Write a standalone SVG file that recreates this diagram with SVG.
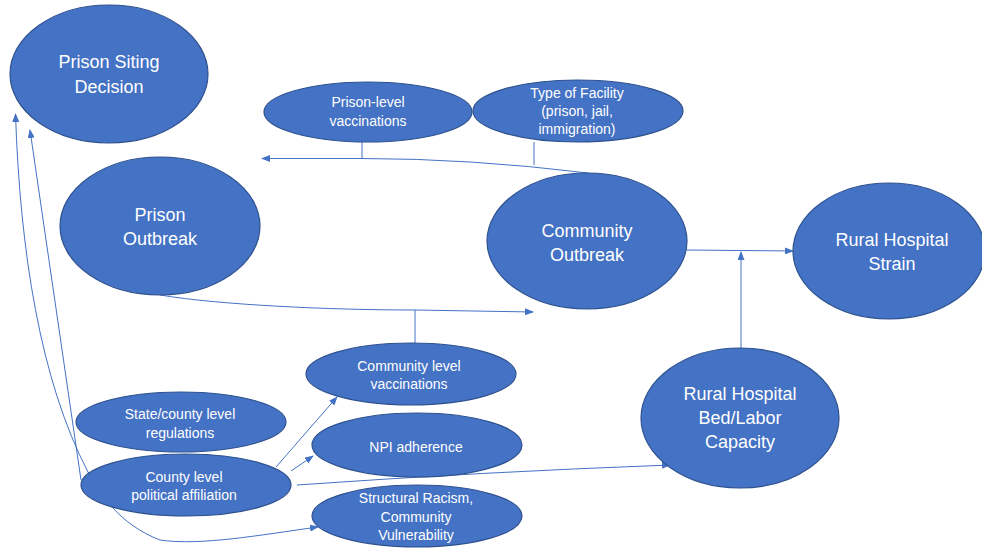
<svg xmlns="http://www.w3.org/2000/svg" width="982" height="550" viewBox="0 0 982 550">
<style>
.node{fill:#4472C4;stroke:#2F528F;stroke-width:1.2}
.big{font-family:"Liberation Sans",Arial,sans-serif;font-size:18px;fill:#ffffff;text-anchor:middle}
.small{font-family:"Liberation Sans",Arial,sans-serif;font-size:14px;fill:#ffffff;text-anchor:middle}
.c{fill:none;stroke:#4472C4;stroke-width:1}
.ca{fill:none;stroke:#4472C4;stroke-width:1;marker-end:url(#arr)}
</style>
<defs>
<marker id="arr" markerUnits="userSpaceOnUse" markerWidth="9" markerHeight="7" refX="8" refY="3.5" orient="auto-start-reverse">
<path d="M0,0 L9,3.5 L0,7 z" fill="#4472C4"/>
</marker>
</defs>
<rect width="982" height="550" fill="#ffffff"/>
<g id="connectors">
<path class="c" d="M588 173 Q470 158.5 362 158.5 L262 158.5" marker-end="url(#arr)"/>
<path class="c" d="M362 142 L362 158.5"/>
<path class="c" d="M534 142 L534 165"/>
<path class="ca" d="M160 295 C220 305 330 310 415 310 L533 312"/>
<path class="c" d="M415 310 L415 343"/>
<path class="ca" d="M687 250 L793 251"/>
<path class="ca" d="M741 349 L741 252"/>
<path class="ca" d="M276 467 L337 397"/>
<path class="ca" d="M291 471 L313 456"/>
<path class="ca" d="M297 485 Q480 472 670 465"/>
<path class="ca" d="M81 480 L30 130"/>
<path class="c" d="M15.5 114 C20 250 40 380 88 472 C98 492 120 525 160 540 C200 546 260 535 318 527" marker-start="url(#arr)" marker-end="url(#arr)"/>
</g>
<g id="prison-siting">
<ellipse class="node" cx="109" cy="74" rx="99" ry="69"/>
<text class="big" x="109" y="68">Prison Siting</text>
<text class="big" x="109" y="93">Decision</text>
</g>
<g id="prison-vacc">
<ellipse class="node" cx="368" cy="112" rx="104" ry="30"/>
<text class="small" x="368" y="107">Prison-level</text>
<text class="small" x="368" y="126">vaccinations</text>
</g>
<g id="facility-type">
<ellipse class="node" cx="578" cy="111" rx="105" ry="31"/>
<text class="small" x="577" y="98">Type of Facility</text>
<text class="small" x="577" y="116">(prison, jail,</text>
<text class="small" x="577" y="134">immigration)</text>
</g>
<g id="prison-outbreak">
<ellipse class="node" cx="160" cy="226" rx="100" ry="69"/>
<text class="big" x="160" y="221">Prison</text>
<text class="big" x="160" y="245">Outbreak</text>
</g>
<g id="community-outbreak">
<ellipse class="node" cx="587" cy="241" rx="100" ry="68"/>
<text class="big" x="587" y="237">Community</text>
<text class="big" x="587" y="261">Outbreak</text>
</g>
<g id="hospital-strain">
<ellipse class="node" cx="889" cy="251" rx="96" ry="68"/>
<text class="big" x="892" y="246">Rural Hospital</text>
<text class="big" x="892" y="270">Strain</text>
</g>
<g id="hospital-capacity">
<ellipse class="node" cx="740" cy="418" rx="99" ry="70"/>
<text class="big" x="740" y="400">Rural Hospital</text>
<text class="big" x="740" y="424">Bed/Labor</text>
<text class="big" x="740" y="448">Capacity</text>
</g>
<g id="community-vacc">
<ellipse class="node" cx="411" cy="374" rx="105" ry="31"/>
<text class="small" x="409" y="371">Community level</text>
<text class="small" x="409" y="389">vaccinations</text>
</g>
<g id="npi">
<ellipse class="node" cx="417" cy="445" rx="105" ry="32"/>
<text class="small" x="416" y="452">NPI adherence</text>
</g>
<g id="structural-racism">
<ellipse class="node" cx="417" cy="516" rx="105" ry="31"/>
<text class="small" x="416" y="503">Structural Racism,</text>
<text class="small" x="416" y="522">Community</text>
<text class="small" x="416" y="540">Vulnerability</text>
</g>
<g id="state-regulations">
<ellipse class="node" cx="181" cy="422" rx="105" ry="30"/>
<text class="small" x="180" y="419">State/county level</text>
<text class="small" x="180" y="438">regulations</text>
</g>
<g id="county-political">
<ellipse class="node" cx="186" cy="485" rx="105" ry="31"/>
<text class="small" x="184" y="482">County level</text>
<text class="small" x="184" y="500">political affiliation</text>
</g>
</svg>
